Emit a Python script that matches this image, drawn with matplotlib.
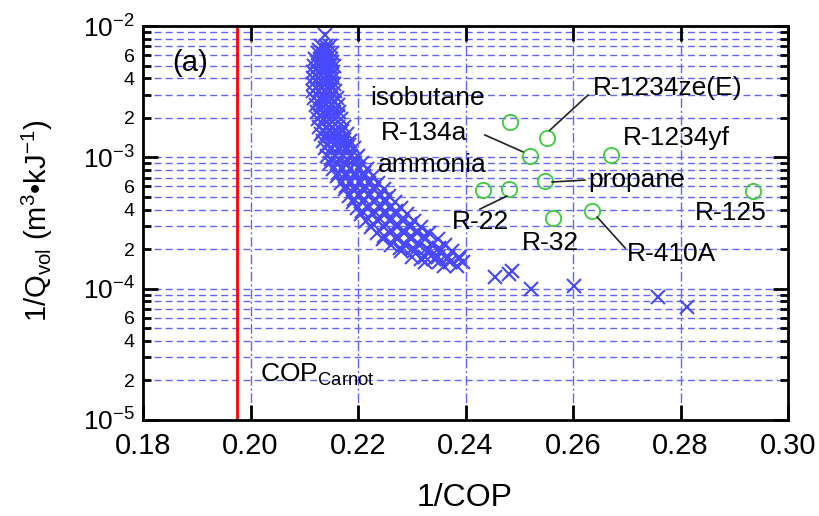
import matplotlib
matplotlib.use("Agg")
import matplotlib.pyplot as plt
import numpy as np
from matplotlib.ticker import LogLocator, FuncFormatter, FixedLocator

plt.rcParams['font.family'] = ['Liberation Sans', 'DejaVu Sans']
plt.rcParams['mathtext.fontset'] = 'custom'
plt.rcParams['mathtext.rm'] = 'Liberation Sans'
plt.rcParams['mathtext.it'] = 'Liberation Sans:italic'
plt.rcParams['mathtext.bf'] = 'Liberation Sans:bold'

# ---- data: dense band of candidate fluids (1/COP, 1/Qvol) ----
band_rows_y = [7.0e-3, 6.2e-3, 5.6e-3, 5.0e-3, 4.5e-3, 4.0e-3, 3.6e-3, 3.2e-3,
               2.85e-3, 2.5e-3, 2.2e-3, 1.95e-3, 1.7e-3, 1.5e-3, 1.32e-3,
               1.17e-3, 1.03e-3, 9.1e-4, 8.1e-4, 7.2e-4, 6.4e-4, 5.7e-4,
               5.1e-4, 4.6e-4, 4.1e-4, 3.7e-4, 3.3e-4, 2.95e-4, 2.65e-4,
               2.4e-4, 2.15e-4, 1.95e-4, 1.75e-4, 1.6e-4, 1.48e-4]
band_rows_x = [
    [0.2132, 0.2140, 0.2147],
    [0.2125, 0.2135, 0.2145, 0.2152],
    [0.2120, 0.2130, 0.2140, 0.2150],
    [0.2118, 0.2128, 0.2138, 0.2148, 0.2155],
    [0.2117, 0.2126, 0.2136, 0.2146, 0.2153],
    [0.2116, 0.2125, 0.2135, 0.2145, 0.2154],
    [0.2117, 0.2127, 0.2137, 0.2147, 0.2156],
    [0.2117, 0.2128, 0.2138, 0.2148, 0.2157],
    [0.2119, 0.2129, 0.2139, 0.2150, 0.2160],
    [0.2121, 0.2131, 0.2141, 0.2152, 0.2162],
    [0.2123, 0.2134, 0.2144, 0.2155, 0.2165],
    [0.2126, 0.2137, 0.2148, 0.2158, 0.2168],
    [0.2128, 0.2140, 0.2151, 0.2162, 0.2174],
    [0.2131, 0.2143, 0.2155, 0.2167, 0.2180],
    [0.2135, 0.2147, 0.2160, 0.2173, 0.2186],
    [0.2139, 0.2152, 0.2166, 0.2180, 0.2193],
    [0.2143, 0.2158, 0.2172, 0.2187, 0.2200],
    [0.2148, 0.2163, 0.2178, 0.2194, 0.2208],
    [0.2154, 0.2170, 0.2186, 0.2202, 0.2217],
    [0.2160, 0.2177, 0.2194, 0.2211, 0.2228],
    [0.2168, 0.2185, 0.2203, 0.2220, 0.2238],
    [0.2175, 0.2193, 0.2212, 0.2230, 0.2248],
    [0.2183, 0.2202, 0.2221, 0.2240, 0.2258],
    [0.2190, 0.2210, 0.2230, 0.2250, 0.2268],
    [0.2198, 0.2219, 0.2240, 0.2260, 0.2280],
    [0.2206, 0.2228, 0.2250, 0.2271, 0.2292],
    [0.2214, 0.2237, 0.2260, 0.2283, 0.2305],
    [0.2224, 0.2248, 0.2272, 0.2296, 0.2318],
    [0.2235, 0.2260, 0.2285, 0.2310, 0.2333],
    [0.2247, 0.2273, 0.2298, 0.2324, 0.2348],
    [0.2262, 0.2288, 0.2313, 0.2338, 0.2362],
    [0.2280, 0.2305, 0.2330, 0.2352, 0.2375],
    [0.2300, 0.2325, 0.2348, 0.2368, 0.2388],
    [0.2325, 0.2350, 0.2372, 0.2395],
    [0.2360, 0.2385],
]
band_extra_y = [6.6e-3, 5.3e-3, 4.25e-3, 3.4e-3, 2.65e-3, 2.05e-3, 1.6e-3,
                1.25e-3, 9.7e-4, 7.6e-4, 6.0e-4, 4.85e-4, 3.9e-4, 3.1e-4,
                2.5e-4, 2.05e-4, 1.68e-4]
band_extra_x = [
    [0.2128, 0.2143],
    [0.2123, 0.2133, 0.2143, 0.2152],
    [0.2121, 0.2131, 0.2141, 0.2150],
    [0.2122, 0.2132, 0.2142, 0.2152],
    [0.2125, 0.2135, 0.2146, 0.2156],
    [0.2129, 0.2140, 0.2151, 0.2162],
    [0.2134, 0.2146, 0.2158, 0.2171],
    [0.2142, 0.2155, 0.2169, 0.2183],
    [0.2150, 0.2165, 0.2180, 0.2195],
    [0.2162, 0.2178, 0.2195, 0.2212],
    [0.2177, 0.2195, 0.2213, 0.2231],
    [0.2192, 0.2212, 0.2231, 0.2250],
    [0.2208, 0.2229, 0.2250, 0.2271],
    [0.2227, 0.2250, 0.2273, 0.2296],
    [0.2248, 0.2273, 0.2298, 0.2322],
    [0.2278, 0.2303, 0.2328, 0.2350],
    [0.2318, 0.2342, 0.2365, 0.2388],
]
sparse_x = [0.2139, 0.2139, 0.2455, 0.2480, 0.2486, 0.2522, 0.2602, 0.2759, 0.2812]
sparse_y = [8.5e-3, 6.6e-3, 1.23e-4, 1.30e-4, 1.36e-4, 9.9e-5, 1.05e-4, 8.6e-5, 7.2e-5]

# ---- data: known refrigerants ----
ref_names = ["isobutane", "R-1234ze(E)", "R-134a", "R-1234yf", "propane",
             "ammonia", "R-22", "R-32", "R-410A", "R-125"]
ref_x = [0.2483, 0.2551, 0.2520, 0.2671, 0.2547, 0.2433, 0.2480, 0.2563, 0.2635, 0.2934]
ref_y = [1.87e-3, 1.41e-3, 1.02e-3, 1.05e-3, 6.6e-4, 5.64e-4, 5.74e-4, 3.47e-4, 3.90e-4, 5.57e-4]

cop_carnot_inv = 0.1975

x_ticks = [0.18, 0.20, 0.22, 0.24, 0.26, 0.28, 0.30]

# ---- figure ----
fig = plt.figure(figsize=(8.19, 5.16), dpi=100)
ax = fig.add_axes([143/819, 1-420/516, (788-143)/819, (420-26)/516])

ax.set_yscale('log')
ax.set_xlim(0.18, 0.30)
ax.set_ylim(1e-5, 1e-2)

grid_col = '#6464ff'
for dec in [1e-5, 1e-4, 1e-3]:
    for m in range(1, 10):
        if m == 1 and dec == 1e-5:
            continue
        ax.axhline(dec * m, color=grid_col, lw=1.0, ls=(0, (5, 3)), zorder=1)
ax.axhline(1e-2, color=grid_col, lw=1.0, ls=(0, (5, 3)), zorder=1)
for xv in x_ticks[1:-1]:
    ax.axvline(xv, color=grid_col, lw=1.0, ls=(0, (7, 2, 1.5, 2)), zorder=1)

cross = dict(ls='none', marker='x', ms=10, mew=1.5, color='#4848ff', zorder=3)
bx, by = [], []
for yv, xs in zip(band_rows_y + band_extra_y, band_rows_x + band_extra_x):
    for xv in xs:
        bx.append(xv)
        by.append(yv)
ax.plot(bx, by, **cross)
ax.plot(sparse_x, sparse_y, **cross)

ax.plot(ref_x, ref_y, ls='none', marker='o', ms=11, mfc='none', mec='#3ccc3c', mew=1.3, zorder=4)

ax.axvline(cop_carnot_inv, color='#ff0000', lw=2.0, zorder=5)

# ticks
ax.xaxis.set_major_locator(FixedLocator(x_ticks))
ax.xaxis.set_major_formatter(FuncFormatter(lambda v, p: f"{v:.2f}"))
ax.yaxis.set_major_locator(LogLocator(base=10, numticks=10))
ax.yaxis.set_minor_locator(LogLocator(base=10, subs=np.arange(2, 10), numticks=20))

def major_fmt(v, p):
    e = int(round(np.log10(v)))
    return r"$10^{%d}$" % e

def minor_fmt(v, p):
    e = np.floor(np.log10(v) + 1e-9)
    m = int(round(v / 10**e))
    return str(m) if m in (2, 4, 6) else ""

ax.yaxis.set_major_formatter(FuncFormatter(major_fmt))
ax.yaxis.set_minor_formatter(FuncFormatter(minor_fmt))

ax.tick_params(axis='both', which='major', direction='in', length=11, width=2,
               top=True, right=True, pad=6)
ax.tick_params(axis='x', which='major', labelsize=21, pad=9)
ax.tick_params(axis='y', which='major', labelsize=19)
ax.tick_params(axis='y', which='minor', direction='in', length=6, width=2,
               right=True, labelsize=14, pad=6)
ax.tick_params(axis='x', which='minor', bottom=False, top=False)
for s in ax.spines.values():
    s.set_linewidth(2)
    s.set_zorder(6)

tfs = 19
ax.text(0.1854, 5.2e-3, "(a)", fontsize=21, ha='left', va='center')
ax.text(0.2222, 2.83e-3, "isobutane", fontsize=tfs, ha='left', va='center')
ax.text(0.2243, 1.53e-3, "R-134a", fontsize=tfs, ha='left', va='center')
ax.text(0.2237, 8.73e-4, "ammonia", fontsize=tfs, ha='left', va='center')
ax.text(0.2637, 3.37e-3, "R-1234ze(E)", fontsize=tfs, ha='left', va='center')
ax.text(0.2693, 1.40e-3, "R-1234yf", fontsize=tfs, ha='left', va='center')
ax.text(0.2628, 6.7e-4, "propane", fontsize=tfs, ha='left', va='center')
ax.text(0.2827, 3.77e-4, "R-125", fontsize=tfs, ha='left', va='center')
ax.text(0.2375, 3.21e-4, "R-22", fontsize=tfs, ha='left', va='center')
ax.text(0.2505, 2.22e-4, "R-32", fontsize=tfs, ha='left', va='center')
ax.text(0.2700, 1.84e-4, "R-410A", fontsize=tfs, ha='left', va='center')
ax.text(0.2018, 2.2e-5, r"COP$_{\mathrm{Carnot}}$", fontsize=tfs, ha='left', va='center')

lk = dict(color='#222222', lw=1.2, zorder=4)
ax.plot([0.2628, 0.2557], [2.98e-3, 1.61e-3], **lk)
ax.plot([0.2436, 0.2507], [1.48e-3, 1.10e-3], **lk)
ax.plot([0.2561, 0.2622], [6.49e-4, 6.71e-4], **lk)
ax.plot([0.2427, 0.2477], [4.04e-4, 5.07e-4], **lk)
ax.plot([0.2645, 0.2697], [3.51e-4, 2.04e-4], **lk)

fig.text(465/819, 1-498/516, "1/COP", fontsize=23, ha='center', va='center')
fig.text(37/819, 1-221/516, r"1/Q$_{\mathrm{vol}}$ (m$^{3}$•kJ$^{-1}$)", fontsize=21,
         ha='center', va='center', rotation=90)

fig.savefig("out.png", dpi=100)
